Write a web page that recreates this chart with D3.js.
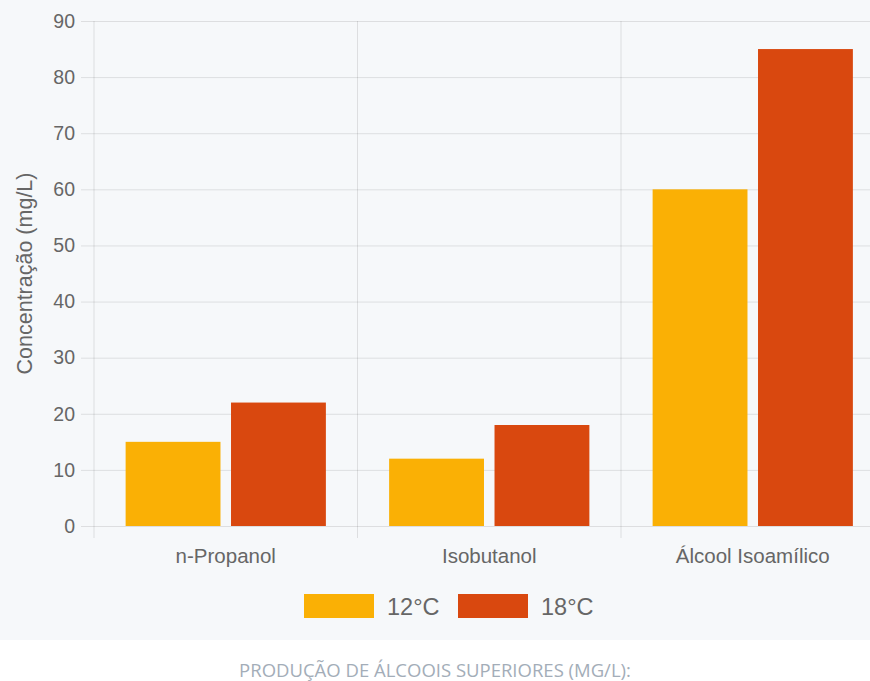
<!DOCTYPE html>
<html>
<head>
<meta charset="utf-8">
<script src="https://cdn.jsdelivr.net/npm/d3@7"></script>
<style>
  body { margin: 0; background: #ffffff; overflow: hidden; }
  #svg-container { width: 870px; height: 681px; }
  svg { display: block; overflow: visible; }
  .tick text { font-family: "Liberation Sans", Arial, sans-serif; fill: #666; }
</style>
</head>
<body>
<div id="svg-container"></div>
<script>
// Data
const categories = ["n-Propanol", "Isobutanol", "Álcool Isoamílico"];
const seriesNames = ["12°C", "18°C"];
const values12 = [15, 12, 60];
const values18 = [22, 18, 85];
const yTicks = [0, 10, 20, 30, 40, 50, 60, 70, 80, 90];
const colors = ["#fab005", "#d9480f"];
const caption = "PRODUÇÃO DE ÁLCOOIS SUPERIORES (MG/L):";

const width = 870;
const height = 681;
const margin = { top: 21, right: -14.5, bottom: 155, left: 94 };
const font = "'Liberation Sans', Arial, sans-serif";

const svg = d3.select("#svg-container").append("svg")
  .attr("width", width).attr("height", height);

// chart background
svg.append("rect")
  .attr("x", 0).attr("y", 0)
  .attr("width", width).attr("height", 640)
  .attr("fill", "#f6f8fa");

const xScale = d3.scaleBand()
  .domain(categories)
  .range([margin.left, width - margin.right]);
// chart.js style: categoryPercentage 0.8, barPercentage 0.9
const catW = xScale.bandwidth();
const slot = catW * 0.8 / 2;
const barW = slot * 0.9;
const barX = (cat, i) => xScale(cat) + catW * 0.1 + slot * i + (slot - barW) / 2;

const yScale = d3.scaleLinear()
  .domain([0, 90])
  .range([height - margin.bottom, margin.top]);

const gridColor = "rgba(0,0,0,0.1)";

// horizontal grid + y axis
const yAxis = d3.axisLeft(yScale)
  .tickValues(yTicks)
  .tickSize(-(width - margin.right - margin.left) - 13)
  .tickPadding(6);
const gy = svg.append("g")
  .attr("transform", `translate(${margin.left - 13},0)`)
  .call(yAxis);
gy.select(".domain").remove();
gy.selectAll(".tick line").attr("stroke", gridColor).attr("stroke-width", 1);
gy.selectAll(".tick text").attr("font-size", 19.5);

// vertical grid lines at category boundaries
const bounds = categories.map((c) => xScale(c));
svg.append("g").selectAll("line")
  .data(bounds)
  .join("line")
  .attr("x1", (d) => d).attr("x2", (d) => d)
  .attr("y1", margin.top).attr("y2", height - margin.bottom + 12)
  .attr("stroke", gridColor);

// x axis labels
const xAxis = d3.axisBottom(xScale).tickSize(0).tickPadding(22);
const gx = svg.append("g")
  .attr("transform", `translate(0,${height - margin.bottom})`)
  .call(xAxis);
gx.select(".domain").remove();
gx.selectAll(".tick text").attr("font-size", 20.5);

// bars
const series = [values12, values18];
series.forEach((vals, i) => {
  svg.append("g").selectAll("rect")
    .data(categories.map((c, k) => ({ cat: c, v: vals[k] })))
    .join("rect")
    .attr("x", (d) => barX(d.cat, i))
    .attr("y", (d) => yScale(d.v))
    .attr("width", barW)
    .attr("height", (d) => yScale(0) - yScale(d.v))
    .attr("fill", colors[i]);
});

// y axis title
svg.append("text")
  .attr("transform", `translate(32,${(yScale(0) + yScale(90)) / 2}) rotate(-90)`)
  .attr("text-anchor", "middle")
  .attr("font-family", font)
  .attr("font-size", 21.5)
  .attr("fill", "#666")
  .text("Concentração (mg/L)");

// legend
const legendX = [304, 458];
const legend = svg.append("g");
seriesNames.forEach((name, i) => {
  legend.append("rect")
    .attr("x", legendX[i]).attr("y", 594)
    .attr("width", 70).attr("height", 24)
    .attr("fill", colors[i]);
  legend.append("text")
    .attr("x", legendX[i] + 83).attr("y", 615)
    .attr("font-family", font)
    .attr("font-size", 23.5)
    .attr("fill", "#666")
    .text(name);
});

// caption
svg.append("text")
  .attr("x", 435).attr("y", 677)
  .attr("text-anchor", "middle")
  .attr("font-family", "'Open Sans', sans-serif")
  .attr("font-size", 18.5)
  .attr("fill", "#a3adb8")
  .text(caption);
</script>
</body>
</html>
